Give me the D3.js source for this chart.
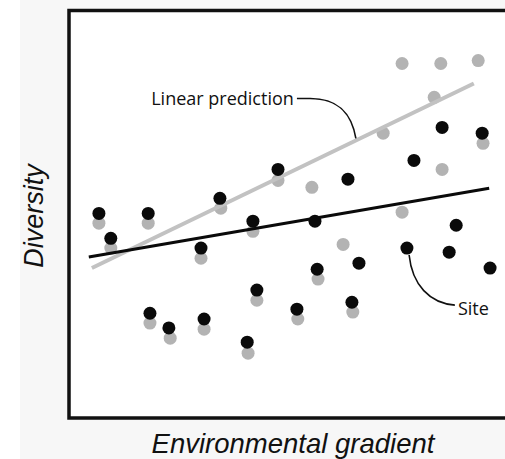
<!DOCTYPE html>
<html><head><meta charset="utf-8">
<script src="https://cdn.jsdelivr.net/npm/d3@7"></script>
<style>html,body{margin:0;padding:0;background:#fff;}svg{display:block;}</style>
</head><body>
<script>
// Data (gradient units 0-10, diversity units 0-10)
const blackX = [0.68,1.80,0.95,3.43,4.75,4.18,3.00,4.27,1.84,2.27,3.07,4.05,5.18,5.59,5.64,6.59,6.43,6.34,7.68,7.84,8.48,9.39,8.80,8.64,9.57];
const blackY = [5.02,5.02,4.41,5.39,6.10,4.83,4.17,3.14,2.57,2.21,2.43,1.86,2.67,4.83,3.65,3.80,2.84,5.86,4.17,6.32,7.13,6.99,4.73,4.07,3.68];
const grayX  = [0.68,1.80,0.95,3.45,4.75,4.18,3.00,4.27,1.84,2.30,3.07,4.07,5.20,5.66,6.45,5.52,6.23,7.57,7.57,8.45,9.30,8.30,7.14,8.48,9.41];
const grayY  = [4.78,4.78,4.17,5.15,5.83,4.58,3.92,2.89,2.33,1.96,2.18,1.59,2.43,3.41,2.60,5.66,4.26,5.05,8.70,8.70,8.77,7.87,6.99,6.10,6.74];
const blackLineX = [0.45,9.55], blackLineY = [3.95,5.64];
const grayLineX  = [0.52,9.20], grayLineY  = [3.68,8.21];
const labels = {x:"Environmental gradient", y:"Diversity", pred:"Linear prediction", site:"Site"};

const W=505,H=459;
const svg=d3.select("body").append("svg").attr("width",W).attr("height",H);
svg.append("rect").attr("x",20).attr("y",0).attr("width",W).attr("height",H).attr("fill","#f7f7f7");

const x=d3.scaleLinear().domain([0,10]).range([69,509]);
const y=d3.scaleLinear().domain([0,10]).range([418,10.5]);

svg.append("rect").attr("x",x(0)).attr("y",y(10)).attr("width",x(10.5)-x(0)).attr("height",y(0)-y(10))
  .attr("fill","#fff").attr("stroke","#111").attr("stroke-width",3.5);

const g=svg.append("g");
const line=d3.line().x(d=>x(d[0])).y(d=>y(d[1]));

g.selectAll("circle.gray").data(d3.zip(grayX,grayY)).join("circle").attr("class","gray")
  .attr("cx",d=>x(d[0])).attr("cy",d=>y(d[1])).attr("r",6.5).attr("fill","#b3b3b3");
g.append("path").attr("d",line(d3.zip(grayLineX,grayLineY))).attr("stroke","#c2c2c2").attr("stroke-width",4).attr("fill","none");
g.append("path").attr("d",line(d3.zip(blackLineX,blackLineY))).attr("stroke","#0a0a0a").attr("stroke-width",3).attr("fill","none");
g.selectAll("circle.black").data(d3.zip(blackX,blackY)).join("circle").attr("class","black")
  .attr("cx",d=>x(d[0])).attr("cy",d=>y(d[1])).attr("r",6.5).attr("fill","#0a0a0a");

// callouts
function bez(pts){const p=d3.path();p.moveTo(x(pts[0][0]),y(pts[0][1]));
  for(let i=1;i<pts.length;){ if(pts[i].line){p.lineTo(x(pts[i][0]),y(pts[i][1]));i++;}
   else {p.bezierCurveTo(x(pts[i][0]),y(pts[i][1]),x(pts[i+1][0]),y(pts[i+1][1]),x(pts[i+2][0]),y(pts[i+2][1]));i+=3;} }
  return p.toString();}
const predStraight=[5.48,7.84]; predStraight.line=true;
const predCallout=[[5.18,7.84],predStraight,[6.16,7.84],[6.43,7.43],[6.52,6.86]];
const siteCallout=[[7.73,4.0],[7.80,3.26],[8.20,2.82],[8.77,2.77]];
g.append("path").attr("d",bez(predCallout)).attr("stroke","#111").attr("stroke-width",1.6).attr("fill","none");
g.append("path").attr("d",bez(siteCallout)).attr("stroke","#111").attr("stroke-width",1.6).attr("fill","none");

g.append("text").attr("x",x(5.11)).attr("y",y(7.67)).attr("text-anchor","end")
  .attr("font-family","'Open Sans'").attr("font-size",18).attr("fill","#111").text(labels.pred);
g.append("text").attr("x",x(8.84)).attr("y",y(2.53))
  .attr("font-family","'Open Sans'").attr("font-size",18).attr("fill","#111").text(labels.site);

svg.append("text").attr("x",293).attr("y",453).attr("text-anchor","middle")
  .attr("font-family","'Liberation Sans',Arial").attr("font-style","italic").attr("font-size",27.5).attr("fill","#111").text(labels.x);
svg.append("text").attr("transform","translate(43,216) rotate(-90)").attr("text-anchor","middle")
  .attr("font-family","'Liberation Sans',Arial").attr("font-style","italic").attr("font-size",27).attr("fill","#111").text(labels.y);
</script>
</body></html>
